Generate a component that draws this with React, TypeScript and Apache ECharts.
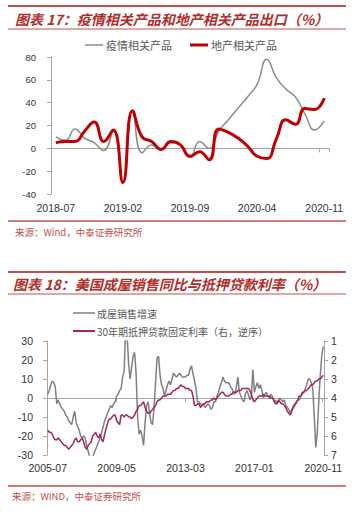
import React, { useEffect, useRef } from "react";
import * as echarts from "echarts";

// ---------- Chart 1 (图表17) ----------
const start1 = { y: 2018, m: 7, count: 29 };
const tick1 = ["2018-07", "2019-02", "2019-09", "2020-04", "2020-11"];
const epidemicProducts = [
  10, 7, 17, 9, 5, -2, 15, -29, 33, -4,
  3, -1, 5, 3, -8, 6, 0, 15, 25, 35,
  45, 56, 78, 62, 52, 45, 30, 16, 24,
];
const propertyProducts = [
  5, 6, 6, 15, 23, 6, 16, -30, 33, 10,
  6, -1, 6, 3, -7, -3, -10, 17, 14, 9,
  2, -7, -9, 8, 25, 21, 35, 34, 44,
];

// ---------- Chart 2 (图表18) ----------
const start2 = { y: 2005, m: 7, count: 185 };
const tick2 = ["2005-07", "2009-05", "2013-03", "2017-01", "2020-11"];
const homeSalesYoY = [
  2, 4, 7, 9, 8, 6, -3, -1, -3, -5, -6, -7,
  -9, -10, -12, -13, -14, -10, -7, -13, -15, -17, -20, -21,
  -20, -21, -25, -28, -31, -31, -31, -29, -27, -25, -23, -21,
  -18, -15, -12, -10, -8, -6, -4, -5, -3, -2, 1, 2,
  4, 5, 11, 14, 36, 33, 18, 10, 16, 22, 24, 13,
  -10, -19, -17, -20, -25, -13, -4, -2, -8, -13, -14, -5,
  8, 21, 22, 12, 7, 5, 1, 4, 7, 9, 7, 10,
  13, 12, 11, 12, 13, 12, 11, 11, 11, 12, 12, 15,
  17, 13, 9, 5, -2, -2, -3, -4, -3, -5, -4, -3,
  -4, -6, -5, -2, -2, 1, 3, 6, 8, 11, 9, 8,
  8, 8, 6, 5, 3, 2, 6, 11, 3, 1, -1, -2,
  2, 4, 2, -1, 1, 15, 3, 6, 8, 5, 7, 4,
  0, 2, 3, 1, 0, 2, 1, -2, -1, -3, -2, 0,
  -1, -2, -1, -4, -5, -6, -8, -6, -4, -3, -3, -1,
  -1, 1, 2, 3, 5, 7, 10, 10, 8, 5, -10, -26,
  -18, -2, 12, 22, 27,
];
const mortgageRate = [
  5.7, 5.8, 5.8, 5.9, 6.1, 6.2, 6.2, 6.1, 6.2, 6.3, 6.4, 6.5,
  6.5, 6.6, 6.7, 6.6, 6.5, 6.4, 6.2, 6.1, 6.3, 6.3, 6.2, 6.1,
  6.3, 6.6, 6.7, 6.5, 6.4, 6.3, 6.0, 5.9, 5.8, 6.0, 6.1, 5.9,
  6.2, 6.3, 5.9, 5.6, 5.3, 5.1, 5.1, 5.0, 4.9, 4.9, 5.2, 5.3,
  5.4, 4.9, 4.9, 5.0, 4.9, 4.9, 5.0, 5.0, 5.1, 5.0, 4.9, 4.7,
  4.6, 4.4, 4.4, 4.3, 4.2, 4.5, 4.7, 4.8, 4.8, 4.7, 4.6, 4.5,
  4.4, 4.2, 4.1, 4.1, 4.0, 3.9, 3.9, 3.9, 3.8, 3.8, 3.8, 3.7,
  3.6, 3.6, 3.5, 3.5, 3.4, 3.3, 3.4, 3.4, 3.5, 3.5, 3.5, 3.6,
  3.6, 3.9, 4.4, 4.4, 4.3, 4.3, 4.5, 4.4, 4.3, 4.3, 4.2, 4.2,
  4.2, 4.1, 4.1, 4.0, 4.1, 4.0, 3.9, 3.8, 3.7, 3.7, 3.8, 3.9,
  3.9, 3.9, 3.8, 3.8, 3.7, 3.7, 3.7, 3.6, 3.6, 3.6, 3.5, 3.5,
  3.5, 3.5, 3.5, 3.6, 3.8, 4.1, 4.2, 4.1, 4.0, 3.9, 3.9, 3.9,
  3.8, 3.9, 3.9, 3.9, 3.9, 4.0, 4.0, 4.1, 4.3, 4.3, 4.1, 4.2,
  4.3, 4.3, 4.4, 4.5, 4.7, 4.8, 4.9, 4.7, 4.5, 4.4, 4.2, 4.1,
  3.9, 3.9, 3.7, 3.7, 3.6, 3.6, 3.5, 3.4, 3.3, 3.3, 3.2, 3.1,
  3.1, 3.0, 3.0, 2.9, 2.8,
];

const title1 = "图表 17：疫情相关产品和地产相关产品出口（%）";
const title2 = "图表 18：美国成屋销售同比与抵押贷款利率（%）";
const source1 = "来源：Wind，中泰证券研究所";
const source2 = "来源：WIND，中泰证券研究所";
const legend1 = ["疫情相关产品", "地产相关产品"];
const legend2 = ["成屋销售增速", "30年期抵押贷款固定利率（右，逆序）"];

function monthLabels(y: number, m: number, count: number): string[] {
  const out: string[] = [];
  for (let i = 0; i < count; i++) {
    const t = (m - 1) + i;
    const yy = y + Math.floor(t / 12);
    const mm = (t % 12) + 1;
    out.push(`${yy}-${mm < 10 ? "0" + mm : mm}`);
  }
  return out;
}

const NUM_FONT = '"Liberation Sans", Arial, sans-serif';
const CJK_FONT = '"Noto Sans CJK SC", sans-serif';
const FRAME_RED = "#C0504D";
const TITLE_RED = "#B22E2B";
const AXIS_GRAY = "#A6A6A6";
const LABEL = "#333333";
const GRAY1 = "#8C8C8C";
const RED1 = "#C00000";
const GRAY2 = "#808080";
const CRIMSON = "#A8235F";

export default function App() {
  const ref = useRef<HTMLDivElement>(null);
  useEffect(() => {
    if (!ref.current) return;
    const chart = echarts.init(ref.current, null, { renderer: "svg" });
    const cats1 = monthLabels(start1.y, start1.m, start1.count);
    const cats2 = monthLabels(start2.y, start2.m, start2.count);
    const hLine = (x1: number, x2: number, y: number, color: string, w: number) => ({
      type: "line",
      silent: true,
      shape: { x1, y1: y, x2, y2: y },
      style: { stroke: color, lineWidth: w },
    });
    const txt = (x: number, y: number, text: string, extra: any) => ({
      type: "text",
      silent: true,
      x,
      y,
      style: { text, verticalAlign: "middle", align: "left", fontFamily: CJK_FONT, ...extra },
    });
    const option: any = {
      animation: false,
      backgroundColor: "#ffffff",
      grid: [
        { left: 51, top: 57, width: 278, height: 137 },
        { left: 47, top: 341, width: 277, height: 114 },
      ],
      xAxis: [
        {
          type: "category",
          gridIndex: 0,
          data: cats1,
          boundaryGap: true,
          axisLine: { onZero: true, lineStyle: { color: AXIS_GRAY, width: 1 } },
          axisTick: { show: true, interval: 6, length: 4, lineStyle: { color: AXIS_GRAY } },
          axisLabel: {
            interval: 6, margin: 8, fontSize: 10.5, color: LABEL, fontFamily: NUM_FONT,
            formatter: (v: string) => (tick1.indexOf(v) >= 0 ? v : ""),
          },
          splitLine: { show: false },
        },
        {
          type: "category",
          gridIndex: 1,
          data: cats2,
          boundaryGap: true,
          axisLine: { onZero: true, lineStyle: { color: AXIS_GRAY, width: 1 } },
          axisTick: { show: true, interval: 45, length: 4, lineStyle: { color: AXIS_GRAY } },
          axisLabel: {
            interval: 45, margin: 7, fontSize: 10.5, color: LABEL, fontFamily: NUM_FONT,
            formatter: (v: string) => (tick2.indexOf(v) >= 0 ? v : ""),
          },
          splitLine: { show: false },
        },
      ],
      yAxis: [
        {
          type: "value",
          gridIndex: 0,
          min: -40,
          max: 80,
          interval: 20,
          axisLine: { show: true, lineStyle: { color: AXIS_GRAY } },
          axisTick: { show: true, length: 4, lineStyle: { color: AXIS_GRAY } },
          axisLabel: { fontSize: 9.5, margin: 15, color: LABEL, fontFamily: NUM_FONT },
          splitLine: { show: false },
        },
        {
          type: "value",
          gridIndex: 1,
          min: -30,
          max: 30,
          interval: 10,
          position: "left",
          axisLine: { show: true, lineStyle: { color: AXIS_GRAY } },
          axisTick: { show: true, length: 4, lineStyle: { color: AXIS_GRAY } },
          axisLabel: { fontSize: 10.5, margin: 14, color: LABEL, fontFamily: NUM_FONT },
          splitLine: { show: false },
        },
        {
          type: "value",
          gridIndex: 1,
          min: 1,
          max: 7,
          interval: 1,
          inverse: true,
          position: "right",
          axisLine: { show: true, onZero: false, lineStyle: { color: AXIS_GRAY } },
          axisTick: { show: true, length: 4, lineStyle: { color: AXIS_GRAY } },
          axisLabel: { fontSize: 10.5, margin: 7, color: LABEL, fontFamily: NUM_FONT },
          splitLine: { show: false },
        },
      ],
      series: [
        {
          name: legend1[0],
          type: "line",
          xAxisIndex: 0,
          yAxisIndex: 0,
          data: epidemicProducts,
          smooth: 0.5,
          symbol: "none",
          lineStyle: { color: GRAY1, width: 1.5 },
          itemStyle: { color: GRAY1 },
        },
        {
          name: legend1[1],
          type: "line",
          xAxisIndex: 0,
          yAxisIndex: 0,
          data: propertyProducts,
          smooth: 0.5,
          symbol: "none",
          lineStyle: { color: RED1, width: 3 },
          itemStyle: { color: RED1 },
        },
        {
          name: legend2[0],
          type: "line",
          xAxisIndex: 1,
          yAxisIndex: 1,
          data: homeSalesYoY,
          symbol: "none",
          clip: true,
          lineStyle: { color: GRAY2, width: 1.5 },
          itemStyle: { color: GRAY2 },
        },
        {
          name: legend2[1],
          type: "line",
          xAxisIndex: 1,
          yAxisIndex: 2,
          data: mortgageRate,
          symbol: "none",
          clip: true,
          lineStyle: { color: CRIMSON, width: 1.5 },
          itemStyle: { color: CRIMSON },
        },
      ],
      graphic: [
        // chart 1 frame
        hLine(8, 346, 6, FRAME_RED, 2),
        txt(15, 19, title1, { fill: TITLE_RED, fontSize: 14, fontWeight: "bold", fontStyle: "italic" }),
        hLine(8, 346, 29, FRAME_RED, 1),
        hLine(85, 103, 45, GRAY1, 1.5),
        txt(106, 45, legend1[0], { fill: "#595959", fontSize: 11 }),
        hLine(190, 208, 45, RED1, 3),
        txt(211, 45, legend1[1], { fill: "#595959", fontSize: 11 }),
        hLine(8, 346, 221, FRAME_RED, 1.5),
        txt(15, 232, source1, { fill: FRAME_RED, fontSize: 9.5 }),
        // chart 2 frame
        hLine(8, 346, 272, FRAME_RED, 2),
        txt(13, 284, title2, { fill: TITLE_RED, fontSize: 14, fontWeight: "bold", fontStyle: "italic" }),
        hLine(8, 346, 294, FRAME_RED, 1),
        hLine(73, 95, 313, GRAY2, 1.5),
        txt(97, 313, legend2[0], { fill: "#595959", fontSize: 10 }),
        hLine(73, 95, 331, CRIMSON, 2),
        txt(97, 331, legend2[1], { fill: "#595959", fontSize: 10 }),
        hLine(8, 346, 486, FRAME_RED, 1.5),
        txt(12, 496, source2, { fill: FRAME_RED, fontSize: 9.5 }),
      ],
    };
    chart.setOption(option);
    return () => chart.dispose();
  }, []);
  return (
    <div
      ref={ref}
      style={{ position: "absolute", left: 0, top: 0, width: 358, height: 520, background: "#fff" }}
    />
  );
}
